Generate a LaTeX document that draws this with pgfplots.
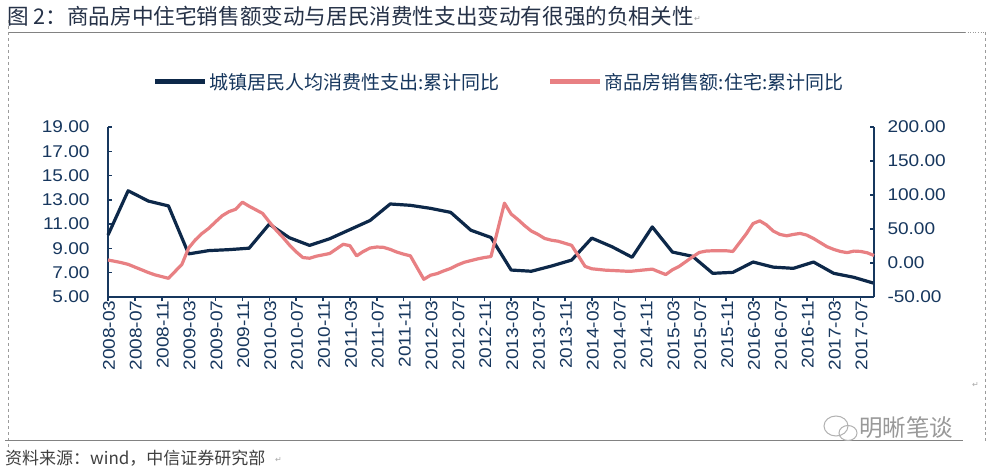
\documentclass[border=0pt]{standalone}
\usepackage{fontspec}
\setmainfont{Liberation Sans}
\newfontfamily\tickfam{Liberation Sans}[FakeStretch=1.12]
\newfontfamily\cjk{Noto Sans CJK SC}
\newfontfamily\dejavu{DejaVu Sans}
\usepackage{pgfplots}
\pgfplotsset{compat=1.18}
\definecolor{navy}{RGB}{13,40,73}
\definecolor{pinkl}{RGB}{232,128,131}
\definecolor{txt}{RGB}{23,55,94}
\definecolor{ttl}{RGB}{38,50,72}
\definecolor{deco}{RGB}{130,130,130}

\begin{document}
\begin{tikzpicture}
\useasboundingbox (0,0) rectangle (987bp,473bp);
\fill[white] (0,0) rectangle (987bp,473bp);
% page decorations
\node[anchor=west, inner sep=0, text=ttl, font=\cjk\fontsize{21.6bp}{22bp}\selectfont] at (7bp,457bp) {图 2：商品房中住宅销售额变动与居民消费性支出变动有很强的负相关性};
\node[anchor=west, inner sep=0, text=deco!70, font=\dejavu\fontsize{8bp}{8bp}\selectfont] at (694bp,454bp) {↵};
\draw[deco, line width=0.8bp] (8bp,441bp) -- (965bp,441bp);
\draw[deco!80, dotted, line width=0.6bp] (965bp,441bp) -- (985bp,441bp);
\draw[deco!80, dashed, line width=0.5bp] (8bp,453bp) -- (8bp,22bp);
\draw[deco!80, dashed, line width=0.5bp] (985bp,441bp) -- (985bp,30bp);
\draw[deco, line width=0.8bp] (5bp,33bp) -- (963bp,33bp);
\node[anchor=west, inner sep=0, text=black!75, font=\cjk\fontsize{17bp}{18bp}\selectfont] at (5bp,15bp) {资料来源：wind，中信证券研究部};
\node[anchor=west, inner sep=0, text=deco!70, font=\dejavu\fontsize{8bp}{8bp}\selectfont] at (275bp,13bp) {↵};
\node[anchor=west, inner sep=0, text=deco!70, font=\dejavu\fontsize{8bp}{8bp}\selectfont] at (972bp,88bp) {↵};
\node[anchor=center, inner sep=0, text=black!40, font=\cjk\fontsize{23.5bp}{24bp}\selectfont] at (906bp,45bp) {明晰笔谈};
\draw[black!30, line width=1bp] (836bp,47bp) ellipse (12bp and 10bp);
\draw[black!30, line width=1bp] (848bp,40bp) ellipse (9bp and 7.5bp);

\pgfplotsset{
  tickfont/.style={font=\tickfam\fontsize{17bp}{18bp}\selectfont, text=txt},
}

\begin{axis}[
  at={(108bp,176bp)}, anchor=south west,
  scale only axis, width=766bp, height=170bp,
  xmin=0, xmax=114, ymin=5, ymax=19,
  axis x line*=bottom, axis y line*=left,
  axis line style={txt, line width=2bp},
  tick align=inside, major tick length=4.5bp,
  tick style={txt, line width=1.5bp},
  xtick style={yshift=-4.5bp},
  xtick={0,4,...,112},
  xticklabels={2008-03,2008-07,2008-11,2009-03,2009-07,2009-11,2010-03,2010-07,2010-11,2011-03,2011-07,2011-11,2012-03,2012-07,2012-11,2013-03,2013-07,2013-11,2014-03,2014-07,2014-11,2015-03,2015-07,2015-11,2016-03,2016-07,2016-11,2017-03,2017-07},
  x tick label style={tickfont, rotate=90, anchor=east, yshift=-1bp},
  ytick={5,7,...,19},
  y tick label style={tickfont, xshift=-15bp},
  yticklabel style={/pgf/number format/.cd, fixed, fixed zerofill, precision=2, assume math mode=true},
  clip=false,
]
\addplot[navy, line width=3.2bp, line join=round] coordinates {
(0,10.1) (3,13.75) (6,12.9) (9,12.5) (12,8.55) (15,8.82) (18,8.9) (21,9.02)
(24,11.0) (27,9.88) (30,9.25) (33,9.8) (36,10.55) (39,11.3) (42,12.66) (45,12.55)
(48,12.3) (51,11.97) (54,10.5) (57,9.9) (60,7.22) (63,7.12) (66,7.55) (69,8.04)
(72,9.85) (75,9.14) (78,8.27) (81,10.77) (84,8.7) (87,8.35) (90,6.95) (93,7.03)
(96,7.88) (99,7.46) (102,7.36) (105,7.88) (108,6.95) (111,6.62) (114,6.13)
};
\end{axis}

\begin{axis}[
  at={(108bp,176bp)}, anchor=south west,
  scale only axis, width=766bp, height=170bp,
  xmin=0, xmax=114, ymin=-50, ymax=200,
  axis x line=none, axis y line*=right,
  axis line style={txt, line width=2bp},
  tick align=inside, major tick length=4.5bp,
  tick style={txt, line width=1.5bp},
  ytick={-50,0,...,200},
  y tick label style={tickfont, xshift=10bp},
  yticklabel style={/pgf/number format/.cd, fixed, fixed zerofill, precision=2, assume math mode=true},
  legend columns=2,
  legend style={draw=none, fill=none, at={(0.5104,1.265)}, anchor=center,
    font=\cjk\fontsize{19bp}{20bp}\selectfont, text=txt,
    /tikz/every even column/.append style={column sep=46bp}},
  legend image code/.code={\draw[#1, line width=5bp] (0bp,0bp) -- (50bp,0bp);},
  clip=false,
]
\addlegendimage{navy, line width=3bp}
\addlegendentry{城镇居民人均消费性支出:累计同比}
\addplot[pinkl, line width=3.2bp, line join=round] coordinates {
(0,4.4) (1,2.5) (2,0.5) (3,-2) (4,-6) (5,-10) (6,-14) (7,-17.5) (8,-20) (9,-22.5)
(11,-2) (12,22) (13,34) (14,43.5) (15,51) (16,60.5) (17,69.5) (18,75.5) (19,79) (20,89.5) (21,83.5)
(23,73) (24,60.5) (25,48.5) (26,38) (27,26.5) (28,16.5) (29,8) (30,7) (31,10) (32,12) (33,14)
(35,27.5) (36,25.5) (37,10.5) (38,17) (39,22) (40,23.5) (41,23) (42,20) (43,16) (44,13) (45,10.5)
(47,-24) (48,-18) (49,-15.5) (50,-11.5) (51,-8) (52,-3) (53,1) (54,3.5) (55,6) (56,8) (57,9.5)
(59,88) (60,72) (61,64) (62,55) (63,47) (64,42) (65,36) (66,33.5) (67,32) (68,29) (69,26)
(71,-5) (72,-8.5) (73,-9.5) (74,-10.5) (75,-11) (76,-11.5) (77,-12) (78,-12) (79,-11) (80,-10) (81,-9)
(83,-17) (84,-10) (85,-5) (86,2) (87,9) (88,15.5) (89,17.5) (90,18) (91,18) (92,18) (93,17)
(95,43) (96,58) (97,62) (98,56) (99,47) (100,42) (101,40) (102,42) (103,43.5) (104,41) (105,36)
(107,24) (108,20) (109,17) (110,15.2) (111,17.5) (112,17) (113,15) (114,11)
};
\addlegendentry{商品房销售额:住宅:累计同比}
\end{axis}
\end{tikzpicture}
\end{document}
